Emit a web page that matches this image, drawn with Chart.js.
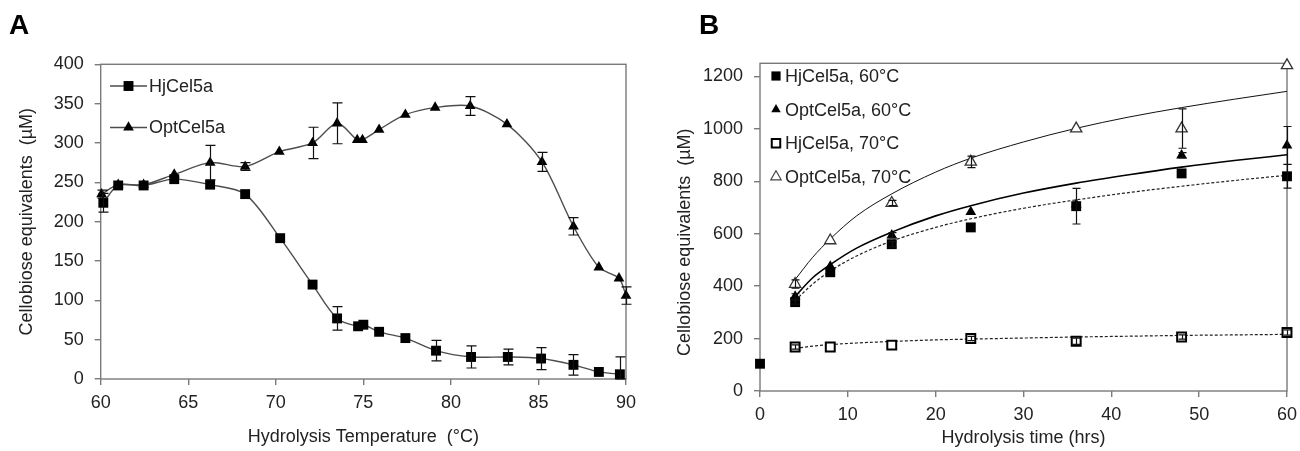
<!DOCTYPE html>
<html>
<head>
<meta charset="utf-8">
<script src="https://cdn.jsdelivr.net/npm/chart.js"></script>
<style>
  html, body { margin: 0; padding: 0; background: #fff; }
  #wrap { position: relative; width: 1300px; height: 451px; overflow: hidden; }
  .panel { position: absolute; top: 0; width: 650px; height: 451px; }
  .panel canvas { display: block; }
  .tag { position: absolute; top: 11px; font: bold 28px "Liberation Sans", Arial, sans-serif; color: #000; line-height: 28px; }
</style>
</head>
<body>
<div id="wrap">
  <div class="panel" style="left:0"><canvas id="tempChart" width="650" height="451"></canvas></div>
  <div class="panel" style="left:650px"><canvas id="timeChart" width="650" height="451"></canvas></div>
  <div class="tag" style="left:9px">A</div>
  <div class="tag" style="left:699px">B</div>
</div>
<script>
const FONT = '"Liberation Sans", Arial, sans-serif';
const INK = '#222';
const AXIS = '#7a7a7a';

// A: activity against hydrolysis temperature
const tempHj = [60.15, 61.0, 62.45, 64.2, 66.25, 68.25, 70.25, 72.1, 73.5, 74.7, 75.0, 75.9, 77.4, 79.15, 81.15, 83.25, 85.15, 87.0, 88.45, 89.65];
const actHj = [224, 246, 246, 254, 247, 235, 179, 120, 77, 67, 69, 60, 52, 36, 28, 28, 26, 18, 9, 6];
const errHj = [12, 0, 0, 0, 0, 0, 0, 0, 15, 0, 0, 0, 0, 13, 14, 10, 14, 13, 0, 22];

const tempOpt = [60.05, 61.0, 62.45, 64.2, 66.25, 68.25, 70.2, 72.1, 73.5, 74.65, 74.95, 75.9, 77.4, 79.1, 81.1, 83.2, 85.2, 87.0, 88.45, 89.6, 90.0];
const actOpt = [235, 247, 247, 260, 275, 270, 289, 300, 325, 304, 304, 317, 336, 345, 347, 324, 276, 194, 142, 128, 106];
const errOpt = [5, 0, 0, 0, 22, 5, 0, 20, 26, 0, 0, 0, 0, 0, 12, 0, 12, 11, 0, 0, 11];

const tempTicks = [60, 65, 70, 75, 80, 85, 90];
const actTicks = [0, 50, 100, 150, 200, 250, 300, 350, 400];

// B: time course at 60 and 70 °C
const timeHj60 = [0, 4, 8, 15, 24, 36, 48, 60];
const hj60 = [104, 339, 453, 560, 624, 705, 830, 819];
const errHj60 = [0, 8, 0, 10, 0, 68, 0, 45];

const timeOpt60 = [4, 8, 15, 24, 36, 48, 60];
const opt60 = [361, 475, 594, 683, 712, 899, 937];
const errOpt60 = [10, 0, 10, 0, 0, 10, 72];

const timeHj70 = [4, 8, 15, 24, 36, 48, 60];
const hj70 = [168, 168, 175, 200, 190, 206, 223];
const errHj70 = [8, 0, 0, 8, 12, 8, 10];

const timeOpt70 = [4, 8, 15, 24, 36, 48, 60];
const opt70 = [408, 574, 717, 874, 1001, 1001, 1242];
const errOpt70 = [16, 0, 10, 22, 0, 75, 0];

// fitted trend curves
const fitTime = [4, 6, 8, 11, 15, 20, 24, 30, 36, 42, 48, 54, 60];
const fitHj60 = [345, 408, 458, 515, 572, 624, 657, 697, 729, 757, 781, 803, 823];
const fitOpt60 = [361, 432, 482, 545, 606, 668, 707, 755, 793, 825, 854, 879, 901];
const fitHj70 = [163, 171, 177, 183, 189, 195, 198, 202, 206, 209, 212, 214, 216];
const fitOpt70 = [425, 510, 580, 668, 752, 835, 888, 950, 1002, 1045, 1081, 1113, 1143];

const timeTicks = [0, 10, 20, 30, 40, 50, 60];
const yieldTicks = [0, 200, 400, 600, 800, 1000, 1200];

const pts = (xs, ys) => xs.map((x, i) => ({ x: x, y: ys[i] }));

function drawMark(ctx, shape, fill, stroke, lw, x, y, r) {
  ctx.beginPath();
  if (shape === 'rect') {
    const h = r * Math.SQRT1_2;
    ctx.rect(x - h, y - h, 2 * h, 2 * h);
  } else {
    ctx.moveTo(x, y - r);
    ctx.lineTo(x + r * 0.866, y + r / 2);
    ctx.lineTo(x - r * 0.866, y + r / 2);
    ctx.closePath();
  }
  ctx.fillStyle = fill;
  ctx.fill();
  if (lw) {
    ctx.lineWidth = lw;
    ctx.strokeStyle = stroke;
    ctx.stroke();
  }
}

const errorBars = {
  id: 'errorBars',
  afterDatasetsDraw(chart, args, o) {
    const ctx = chart.ctx;
    const ys = chart.scales.y;
    ctx.save();
    ctx.strokeStyle = '#111';
    ctx.lineWidth = 1.2;
    chart.data.datasets.forEach((ds, di) => {
      if (!ds.errors) return;
      chart.getDatasetMeta(di).data.forEach((pt, i) => {
        const e = ds.errors[i];
        if (!e) return;
        const v = ds.data[i].y;
        const top = ys.getPixelForValue(v + e);
        const bot = ys.getPixelForValue(Math.max(v - e, 0));
        const x = Math.round(pt.x) + 0.5;
        ctx.beginPath();
        ctx.moveTo(x, top); ctx.lineTo(x, bot);
        ctx.moveTo(x - o.cap, top); ctx.lineTo(x + o.cap, top);
        ctx.moveTo(x - o.cap, bot); ctx.lineTo(x + o.cap, bot);
        ctx.stroke();
      });
    });
    ctx.restore();
  }
};

const frame = {
  id: 'frame',
  beforeDatasetsDraw(chart) {
    const a = chart.chartArea;
    const ctx = chart.ctx;
    ctx.save();
    ctx.strokeStyle = AXIS;
    ctx.lineWidth = 1.4;
    ctx.strokeRect(a.left, a.top, a.right - a.left, a.bottom - a.top);
    ctx.restore();
  }
};

const keyBox = {
  id: 'keyBox',
  afterDraw(chart, args, o) {
    const ctx = chart.ctx;
    ctx.save();
    o.items.forEach((it, i) => {
      const y = o.y + i * o.row;
      if (o.lineFrom !== undefined) {
        ctx.beginPath();
        ctx.moveTo(o.lineFrom, y);
        ctx.lineTo(o.lineTo, y);
        ctx.strokeStyle = '#4d4d4d';
        ctx.lineWidth = 1.4;
        ctx.stroke();
      }
      drawMark(ctx, it.shape, it.fill, it.stroke, it.lw, o.markX, y, it.r);
      ctx.font = '18px ' + FONT;
      ctx.textBaseline = 'middle';
      ctx.fillStyle = INK;
      ctx.fillText(it.text, o.textX, y + 1);
    });
    ctx.restore();
  }
};

function axis(min, max, tickVals, fitSize, title, titlePad, labelPad) {
  return {
    type: 'linear',
    min: min,
    max: max,
    afterBuildTicks: s => { s.ticks = tickVals.map(v => ({ value: v })); },
    afterFit: s => {
      if (s.isHorizontal()) {
        s.height = fitSize;
        s.paddingLeft = 0;
        s.paddingRight = 0;
      } else {
        s.width = fitSize;
      }
    },
    grid: { drawOnChartArea: false, drawTicks: true, tickLength: 6, color: AXIS, lineWidth: 1.4 },
    border: { display: false },
    ticks: { color: INK, padding: labelPad, font: { family: FONT, size: 18 }, callback: v => String(v) },
    title: { display: true, text: title, color: INK, padding: titlePad, font: { family: FONT, size: 18 } }
  };
}

const baseOptions = {
  responsive: false,
  animation: false,
  events: []
};

// Panel A
new Chart(document.getElementById('tempChart'), {
  type: 'scatter',
  data: {
    datasets: [
      {
        label: 'HjCel5a', data: pts(tempHj, actHj), errors: errHj,
        showLine: true, tension: 0.3, borderColor: '#4d4d4d', borderWidth: 1.4,
        pointStyle: 'rect', pointRadius: 7, pointBackgroundColor: '#000', pointBorderColor: '#000', pointBorderWidth: 0,
        clip: false
      },
      {
        label: 'OptCel5a', data: pts(tempOpt, actOpt), errors: errOpt,
        showLine: true, tension: 0.3, borderColor: '#4d4d4d', borderWidth: 1.4,
        pointStyle: 'triangle', pointRadius: 6.2, pointBackgroundColor: '#000', pointBorderColor: '#000', pointBorderWidth: 0,
        clip: false
      }
    ]
  },
  options: Object.assign({}, baseOptions, {
    layout: { padding: { left: 0, top: 64.3, right: 24, bottom: 0 } },
    plugins: {
      legend: { display: false },
      tooltip: { enabled: false },
      errorBars: { cap: 5 },
      keyBox: {
        x: 0, y: 86, row: 41.5, markX: 128.5, textX: 149, lineFrom: 110, lineTo: 147,
        items: [
          { text: 'HjCel5a', shape: 'rect', fill: '#000', r: 7 },
          { text: 'OptCel5a', shape: 'triangle', fill: '#000', r: 6.2 }
        ]
      }
    },
    scales: {
      x: axis(60, 90, tempTicks, 72, 'Hydrolysis Temperature  (\u00B0C)', { top: 0, bottom: 3 }, 7),
      y: axis(0, 400, actTicks, 100.7, 'Cellobiose equivalents  (\u00B5M)', { top: 16, bottom: 0 }, 11)
    }
  }),
  plugins: [frame, errorBars, keyBox]
});

// Panel B; the y title sits a little below the middle of its axis, hence the trailing spaces
new Chart(document.getElementById('timeChart'), {
  type: 'scatter',
  data: {
    datasets: [
      {
        label: 'HjCel5a, 60\u00B0C', data: pts(timeHj60, hj60), errors: errHj60,
        pointStyle: 'rect', pointRadius: 7, pointBackgroundColor: '#000', pointBorderColor: '#000', pointBorderWidth: 0, clip: false
      },
      {
        label: 'OptCel5a, 60\u00B0C', data: pts(timeOpt60, opt60), errors: errOpt60,
        pointStyle: 'triangle', pointRadius: 6.2, pointBackgroundColor: '#000', pointBorderColor: '#000', pointBorderWidth: 0, clip: false
      },
      {
        label: 'HjCel5a, 70\u00B0C', data: pts(timeHj70, hj70), errors: errHj70,
        pointStyle: 'rect', pointRadius: 6.3, pointBackgroundColor: '#fff', pointBorderColor: '#000', pointBorderWidth: 2, clip: false
      },
      {
        label: 'OptCel5a, 70\u00B0C', data: pts(timeOpt70, opt70), errors: errOpt70,
        pointStyle: 'triangle', pointRadius: 6.5, pointBackgroundColor: '#fff', pointBorderColor: '#333', pointBorderWidth: 1.3, clip: false
      },
      {
        label: 'fit OptCel5a, 70\u00B0C', data: pts(fitTime, fitOpt70), showLine: true, pointRadius: 0,
        cubicInterpolationMode: 'monotone', borderColor: '#111', borderWidth: 1
      },
      {
        label: 'fit OptCel5a, 60\u00B0C', data: pts(fitTime, fitOpt60), showLine: true, pointRadius: 0,
        cubicInterpolationMode: 'monotone', borderColor: '#000', borderWidth: 1.6
      },
      {
        label: 'fit HjCel5a, 60\u00B0C', data: pts(fitTime, fitHj60), showLine: true, pointRadius: 0,
        cubicInterpolationMode: 'monotone', borderColor: '#222', borderWidth: 1.2, borderDash: [3, 2]
      },
      {
        label: 'fit HjCel5a, 70\u00B0C', data: pts(fitTime, fitHj70), showLine: true, pointRadius: 0,
        cubicInterpolationMode: 'monotone', borderColor: '#222', borderWidth: 1.2, borderDash: [3, 2]
      }
    ]
  },
  options: Object.assign({}, baseOptions, {
    layout: { padding: { left: 0, top: 63.3, right: 13, bottom: 0 } },
    plugins: {
      legend: { display: false },
      tooltip: { enabled: false },
      errorBars: { cap: 4 },
      keyBox: {
        x: 0, y: 76, row: 33.6, markX: 126, textX: 135,
        items: [
          { text: 'HjCel5a, 60\u00B0C', shape: 'rect', fill: '#000', r: 6.5 },
          { text: 'OptCel5a, 60\u00B0C', shape: 'triangle', fill: '#000', r: 5.5 },
          { text: 'HjCel5a, 70\u00B0C', shape: 'rect', fill: '#fff', stroke: '#000', lw: 2, r: 6 },
          { text: 'OptCel5a, 70\u00B0C', shape: 'triangle', fill: '#fff', stroke: '#444', lw: 1.2, r: 6 }
        ]
      }
    },
    scales: {
      x: axis(0, 60, timeTicks, 60, 'Hydrolysis time (hrs)', { top: 0, bottom: 2 }, 7),
      y: axis(0, 1250, yieldTicks, 110, 'Cellobiose equivalents  (\u00B5M)      ', { top: 24, bottom: 0 }, 11)
    }
  }),
  plugins: [frame, errorBars, keyBox]
});
</script>
</body>
</html>
